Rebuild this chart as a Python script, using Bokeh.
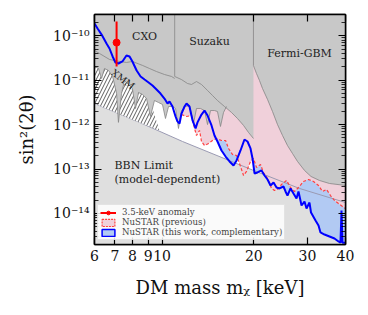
import numpy as np
from bokeh.plotting import figure
from bokeh.models import FixedTicker, Label, Legend, LegendItem, LogAxis
from bokeh.embed import file_html
from bokeh.resources import INLINE

# ---------------- data ----------------
bbn_m = [6.0, 8.43, 11.67, 19.95, 28.25, 40.0]
bbn_s = [2.98e-12, 1.12e-12, 4.16e-13, 9.3e-14, 3.65e-14, 1.76e-14]

cxo_m = [6.0, 6.23, 6.72, 7.25, 7.64, 7.99, 8.63, 9.09, 9.59, 10.18, 10.74, 11.0]
cxo_s = [4.65e-11, 3.98e-11, 2.92e-11, 2.63e-11, 2.50e-11, 2.63e-11, 2.14e-11,
         1.83e-11, 1.56e-11, 1.34e-11, 1.21e-11, 1.09e-11]

suzaku_m = [11.0, 11.58, 12.12, 12.49, 12.97, 13.47, 14.10, 14.64, 15.20, 16.03,
            16.90, 17.68, 18.51, 19.22, 19.95]
suzaku_s = [1.21e-11, 1.03e-11, 8.4e-12, 7.98e-12, 9.3e-12, 7.98e-12, 5.85e-12,
            4.51e-12, 3.48e-12, 2.55e-12, 1.87e-12, 1.37e-12, 9.55e-13, 6.64e-13, 4.86e-13]

fermi_m = [19.95, 20.41, 20.88, 21.36, 22.19, 23.04, 23.93, 24.85, 25.80, 26.80,
           27.83, 29.34, 30.82, 32.86, 35.44, 40.0]
fermi_s = [2.13e-11, 1.41e-11, 9.8e-12, 6.49e-12, 3.67e-12, 1.97e-12, 1.0e-12,
           5.68e-13, 3.38e-13, 2.23e-13, 1.48e-13, 9.3e-14, 6.79e-14, 5.52e-14,
           4.72e-14, 4.26e-14]

xmm_m = [6.0, 6.18, 6.33, 6.47, 6.67, 6.88, 7.09, 7.19, 7.36, 7.53, 7.76, 7.99,
         8.18, 8.37, 8.63, 8.89, 9.16, 9.44, 9.73, 10.03, 10.26, 10.50, 10.82,
         11.07, 11.32, 11.58, 11.94, 12.30, 12.68, 12.97, 13.37, 13.78, 14.10,
         14.42, 14.86, 15.20, 15.55, 15.91, 16.27]
xmm_s = [2.03e-11, 1.83e-11, 1.09e-11, 1.83e-11, 1.65e-11, 1.21e-11, 5.0e-12,
         1.12e-12, 5.0e-12, 9.8e-12, 7.98e-12, 6.49e-12, 2.30e-12, 5.27e-12,
         4.75e-12, 3.86e-12, 1.52e-12, 3.48e-12, 3.14e-12, 2.83e-12, 1.37e-12,
         2.55e-12, 2.55e-12, 2.30e-12, 8.17e-13, 2.07e-12, 2.55e-12, 2.69e-12,
         1.06e-12, 2.30e-12, 2.30e-12, 2.07e-12, 1.0e-12, 2.07e-12, 2.07e-12,
         1.97e-12, 9.07e-13, 1.87e-12, 2.55e-12]

hatch_m = [6.0, 9.09, 9.30, 9.81, 8.43, 6.0]
hatch_s = [5.0e-11, 5.0e-11, 2.3e-12, 7.37e-13, 1.12e-12, 2.98e-12]

prev_m = [11.58, 12.03, 12.49, 12.78, 12.97, 13.27, 13.47, 13.78, 14.21, 14.64,
          15.09, 15.67, 16.16, 16.52, 17.03, 17.56, 18.09, 18.51, 18.93, 19.51,
          19.95, 20.41, 21.04, 21.52, 22.19, 22.87, 23.39, 23.93, 24.66, 25.61,
          26.40, 27.20, 28.04, 29.12, 30.24, 31.41, 32.62, 33.62, 34.65, 35.71,
          36.80, 37.93, 39.10, 40.0]
prev_s = [1.68e-12, 1.52e-12, 1.60e-12, 8.17e-13, 5.68e-13, 7.37e-13, 4.16e-13,
          3.38e-13, 3.75e-13, 4.38e-13, 4.86e-13, 4.38e-13, 4.38e-13, 2.90e-13,
          2.12e-13, 2.01e-13, 1.14e-13, 7.15e-14, 8.82e-14, 1.48e-13, 1.73e-13,
          1.085e-13, 1.26e-13, 8.35e-14, 6.12e-14, 3.65e-14, 3.29e-14, 3.47e-14,
          4.48e-14, 5.52e-14, 3.84e-14, 3.12e-14, 3.84e-14, 5.24e-14, 5.81e-14,
          5.24e-14, 4.26e-14, 3.12e-14, 3.47e-14, 2.53e-14, 1.96e-14, 1.67e-14,
          1.43e-14, 1.29e-14]

new_m = [6.0, 6.14, 6.33, 6.57, 6.72, 6.88, 7.03, 7.19, 7.41, 7.64, 7.82, 7.99,
         8.25, 8.50, 8.76, 9.03, 9.30, 9.59, 9.88, 10.18, 10.42, 10.58, 10.82,
         11.07, 11.23, 11.41, 11.58, 11.85, 12.03, 12.30, 12.59, 12.88, 13.07,
         13.47, 13.78, 14.10, 14.53, 14.86, 15.20, 15.67, 16.16, 16.65, 17.16,
         17.56, 18.09, 18.64, 19.07, 19.51, 19.81, 20.11, 20.57, 21.20, 21.69,
         22.19, 22.70, 23.22, 23.75, 24.29, 25.03, 25.42, 25.80, 26.40, 27.00,
         27.62, 28.04, 28.69, 29.34, 29.79, 30.47, 30.82, 31.89, 32.62, 33.11,
         34.12, 35.44, 36.80, 37.93, 38.51, 38.81, 39.10, 39.69, 40.0]
new_s = [1.88e-10, 1.45e-10, 1.06e-10, 6.68e-11, 5.15e-11, 3.41e-11, 2.50e-11,
         2.37e-11, 2.63e-11, 3.59e-11, 3.41e-11, 2.63e-11, 1.65e-11, 1.21e-11,
         1.03e-11, 8.85e-12, 7.57e-12, 6.16e-12, 5.0e-12, 3.86e-12, 2.98e-12,
         3.31e-12, 2.55e-12, 1.52e-12, 1.18e-12, 1.06e-12, 1.77e-12, 2.55e-12,
         2.98e-12, 2.55e-12, 1.24e-12, 8.17e-13, 1.12e-12, 1.68e-12, 2.07e-12,
         1.60e-12, 9.55e-13, 5.68e-13, 4.16e-13, 2.61e-13, 1.91e-13, 1.48e-13,
         1.20e-13, 1.56e-13, 2.61e-13, 4.61e-13, 4.16e-13, 2.90e-13, 1.73e-13,
         7.93e-14, 8.35e-14, 9.3e-14, 7.15e-14, 5.81e-14, 4.26e-14, 4.97e-14,
         3.84e-14, 3.65e-14, 4.04e-14, 3.12e-14, 2.53e-14, 3.65e-14, 2.81e-14,
         2.17e-14, 3.12e-14, 1.51e-14, 1.85e-14, 1.29e-14, 1.76e-14, 1.05e-14,
         6.94e-15, 5.36e-15, 3.73e-15, 3.35e-15, 3.03e-15, 2.73e-15, 2.34e-15,
         2.2e-15, 1.17e-14, 2.2e-15, 2.2e-15, 2.2e-15]

anom_m = [7.09]
anom_s = [7.0e-11]
anom_lo = [2.03e-11]
anom_hi = [2.08e-10]

x_ticks = [6, 7, 8, 9, 10, 20, 30, 40]
x_tick_labels = ["6", "7", "8", "9", "10", "20", "30", "40"]
y_ticks = [1e-14, 1e-13, 1e-12, 1e-11, 1e-10]
y_tick_labels = ["10⁻¹⁴", "10⁻¹³", "10⁻¹²", "10⁻¹¹", "10⁻¹⁰"]

# ---------------- style ----------------
SERIF = "DejaVu Serif"
GRAY = "#c8c8c8"
EDGE = "#858585"
BBN_FILL = "#dfdfdf"
BBN_LINE = "#9a9ab2"
PINK = "#f0d0da"
LBLUE = "#b2caf3"
TOP = 1e-9
BOT = 1e-16

p = figure(x_axis_type="log", y_axis_type="log", x_range=(6, 40), y_range=(2e-15, 3e-10),
           frame_width=251, frame_height=230, output_backend="svg", toolbar_location=None,
           min_border_left=94, min_border_right=14, min_border_top=14, min_border_bottom=58)
p.grid.visible = False
p.outline_line_color = "black"
p.outline_line_width = 1.5
p.background_fill_color = "white"

bottom_ax = p.xaxis[0]
left_ax = p.yaxis[0]

# BBN region
p.varea(x=bbn_m, y1=[BOT] * len(bbn_m), y2=bbn_s, fill_color=BBN_FILL)
# previous NuSTAR (pink above dashed line)
p.varea(x=prev_m, y1=prev_s, y2=[TOP] * len(prev_m), fill_color=PINK)
# new NuSTAR improvement (blue between new and previous)
lo, hi = prev_m[0], prev_m[-1]
grid = np.unique(np.concatenate([np.array(new_m), np.array(prev_m), np.geomspace(lo, hi, 800)]))
grid = grid[(grid >= lo) & (grid <= hi)]
lb = np.interp(np.log10(grid), np.log10(new_m), np.log10(new_s))
lr = np.interp(np.log10(grid), np.log10(prev_m), np.log10(prev_s))
p.varea(x=grid, y1=10 ** lb, y2=10 ** np.maximum(lb, lr), fill_color=LBLUE)
p.line(bbn_m, bbn_s, line_color=BBN_LINE, line_width=1)

# hatched region
p.patch(hatch_m, hatch_s, fill_color="white", line_color=None, hatch_pattern="/",
        hatch_color="#333333", hatch_weight=0.8, hatch_scale=7)

# gray exclusion regions
for mm, ss in [(xmm_m, xmm_s), (cxo_m, cxo_s), (suzaku_m, suzaku_s), (fermi_m, fermi_s)]:
    p.varea(x=mm, y1=ss, y2=[TOP] * len(mm), fill_color=GRAY)
for mm, ss in [(xmm_m, xmm_s), (cxo_m, cxo_s), (suzaku_m, suzaku_s), (fermi_m, fermi_s)]:
    p.line(mm, ss, line_color=EDGE, line_width=0.8)
p.segment(x0=[suzaku_m[0], fermi_m[0]], y0=[suzaku_s[0], fermi_s[0]],
          x1=[suzaku_m[0], fermi_m[0]], y1=[TOP, TOP], line_color=EDGE, line_width=0.8)

# curves
p.line(prev_m, prev_s, line_color="#ff4040", line_width=1.2, line_dash="3 2")
p.line(new_m, new_s, line_color="#0000ff", line_width=2)

# anomaly
r_an_line = p.segment(x0=anom_m, y0=anom_lo, x1=anom_m, y1=anom_hi, line_color="red", line_width=2)
r_an_pt = p.scatter(anom_m, anom_s, size=7, color="red")

# legend proxies (drawn outside visible range)
r_prev = p.quad(left=[1.0], right=[1.1], top=[1e-20], bottom=[1e-21], fill_color=PINK,
                line_color="#ff4040", line_dash="2 1", line_width=1.2)
r_new = p.quad(left=[1.0], right=[1.1], top=[1e-20], bottom=[1e-21], fill_color=LBLUE,
               line_color="#0000ff", line_width=1.5)

# text labels
def lab(x, y, t, size="11px", align="center", angle=0.0):
    p.add_layout(Label(x=x, y=y, text=t, text_font=SERIF, text_font_size=size,
                       text_align=align, text_baseline="middle", text_color="#222222",
                       angle=angle))

lab(8.76, 9.6e-11, "CXO")
lab(14.31, 7.4e-11, "Suzaku")
lab(28.25, 3.98e-11, "Fermi-GBM")
lab(7.45, 1.05e-11, "XMM", size="9.5px", angle=-0.65)
lab(6.98, 1.2e-13, "BBN Limit", align="left")
lab(6.98, 5.8e-14, "(model-dependent)", align="left")

legend = Legend(items=[LegendItem(label="3.5-keV anomaly", renderers=[r_an_line, r_an_pt]),
                       LegendItem(label="NuSTAR (previous)", renderers=[r_prev]),
                       LegendItem(label="NuSTAR (this work, complementary)", renderers=[r_new])],
                location=(3, 4), label_text_font=SERIF, label_text_font_size="8.6px",
                label_height=10, glyph_height=9, glyph_width=16, label_standoff=6,
                spacing=0, padding=2, margin=0, background_fill_alpha=0.85,
                border_line_color="#cccccc", border_line_width=1)
p.add_layout(legend)

# axes
yminor = [k * 10.0 ** e for e in range(-16, -9) for k in range(2, 10)]
bottom_ax.ticker = FixedTicker(ticks=x_ticks, minor_ticks=[])
left_ax.ticker = FixedTicker(ticks=y_ticks, minor_ticks=yminor)
bottom_ax.major_label_overrides = dict(zip(x_ticks, x_tick_labels))
left_ax.major_label_overrides = dict(zip(y_ticks, y_tick_labels))
bottom_ax.axis_label = "DM mass mᵪ [keV]"
left_ax.axis_label = "sin²(2θ)"

top_ax = LogAxis(ticker=FixedTicker(ticks=x_ticks, minor_ticks=[]))
right_ax = LogAxis(ticker=FixedTicker(ticks=y_ticks, minor_ticks=yminor))
top_ax.major_label_overrides = {t: "" for t in x_ticks}
right_ax.major_label_overrides = {t: "" for t in y_ticks}
p.add_layout(top_ax, "above")
p.add_layout(right_ax, "right")

for ax in [bottom_ax, left_ax, top_ax, right_ax]:
    ax.major_tick_in = 7
    ax.major_tick_out = 0
    ax.minor_tick_in = 4
    ax.minor_tick_out = 0
    ax.axis_line_color = "black"
    ax.axis_line_width = 1.5
    ax.major_tick_line_width = 1.2
    ax.minor_tick_line_width = 0.8
    ax.major_label_text_font = SERIF
    ax.major_label_text_font_size = "14px"
    ax.major_label_text_color = "#111111"
    ax.axis_label_text_font = SERIF
    ax.axis_label_text_font_size = "18px"
    ax.axis_label_text_font_style = "normal"
    ax.axis_label_text_color = "#111111"
for ax in [top_ax, right_ax]:
    ax.major_label_text_font_size = "2px"
    ax.major_label_standoff = 0
bottom_ax.major_label_standoff = 5
bottom_ax.axis_label_standoff = 13
left_ax.major_label_standoff = 5
left_ax.axis_label_standoff = 13

open("out.html", "w").write(file_html(p, INLINE))
